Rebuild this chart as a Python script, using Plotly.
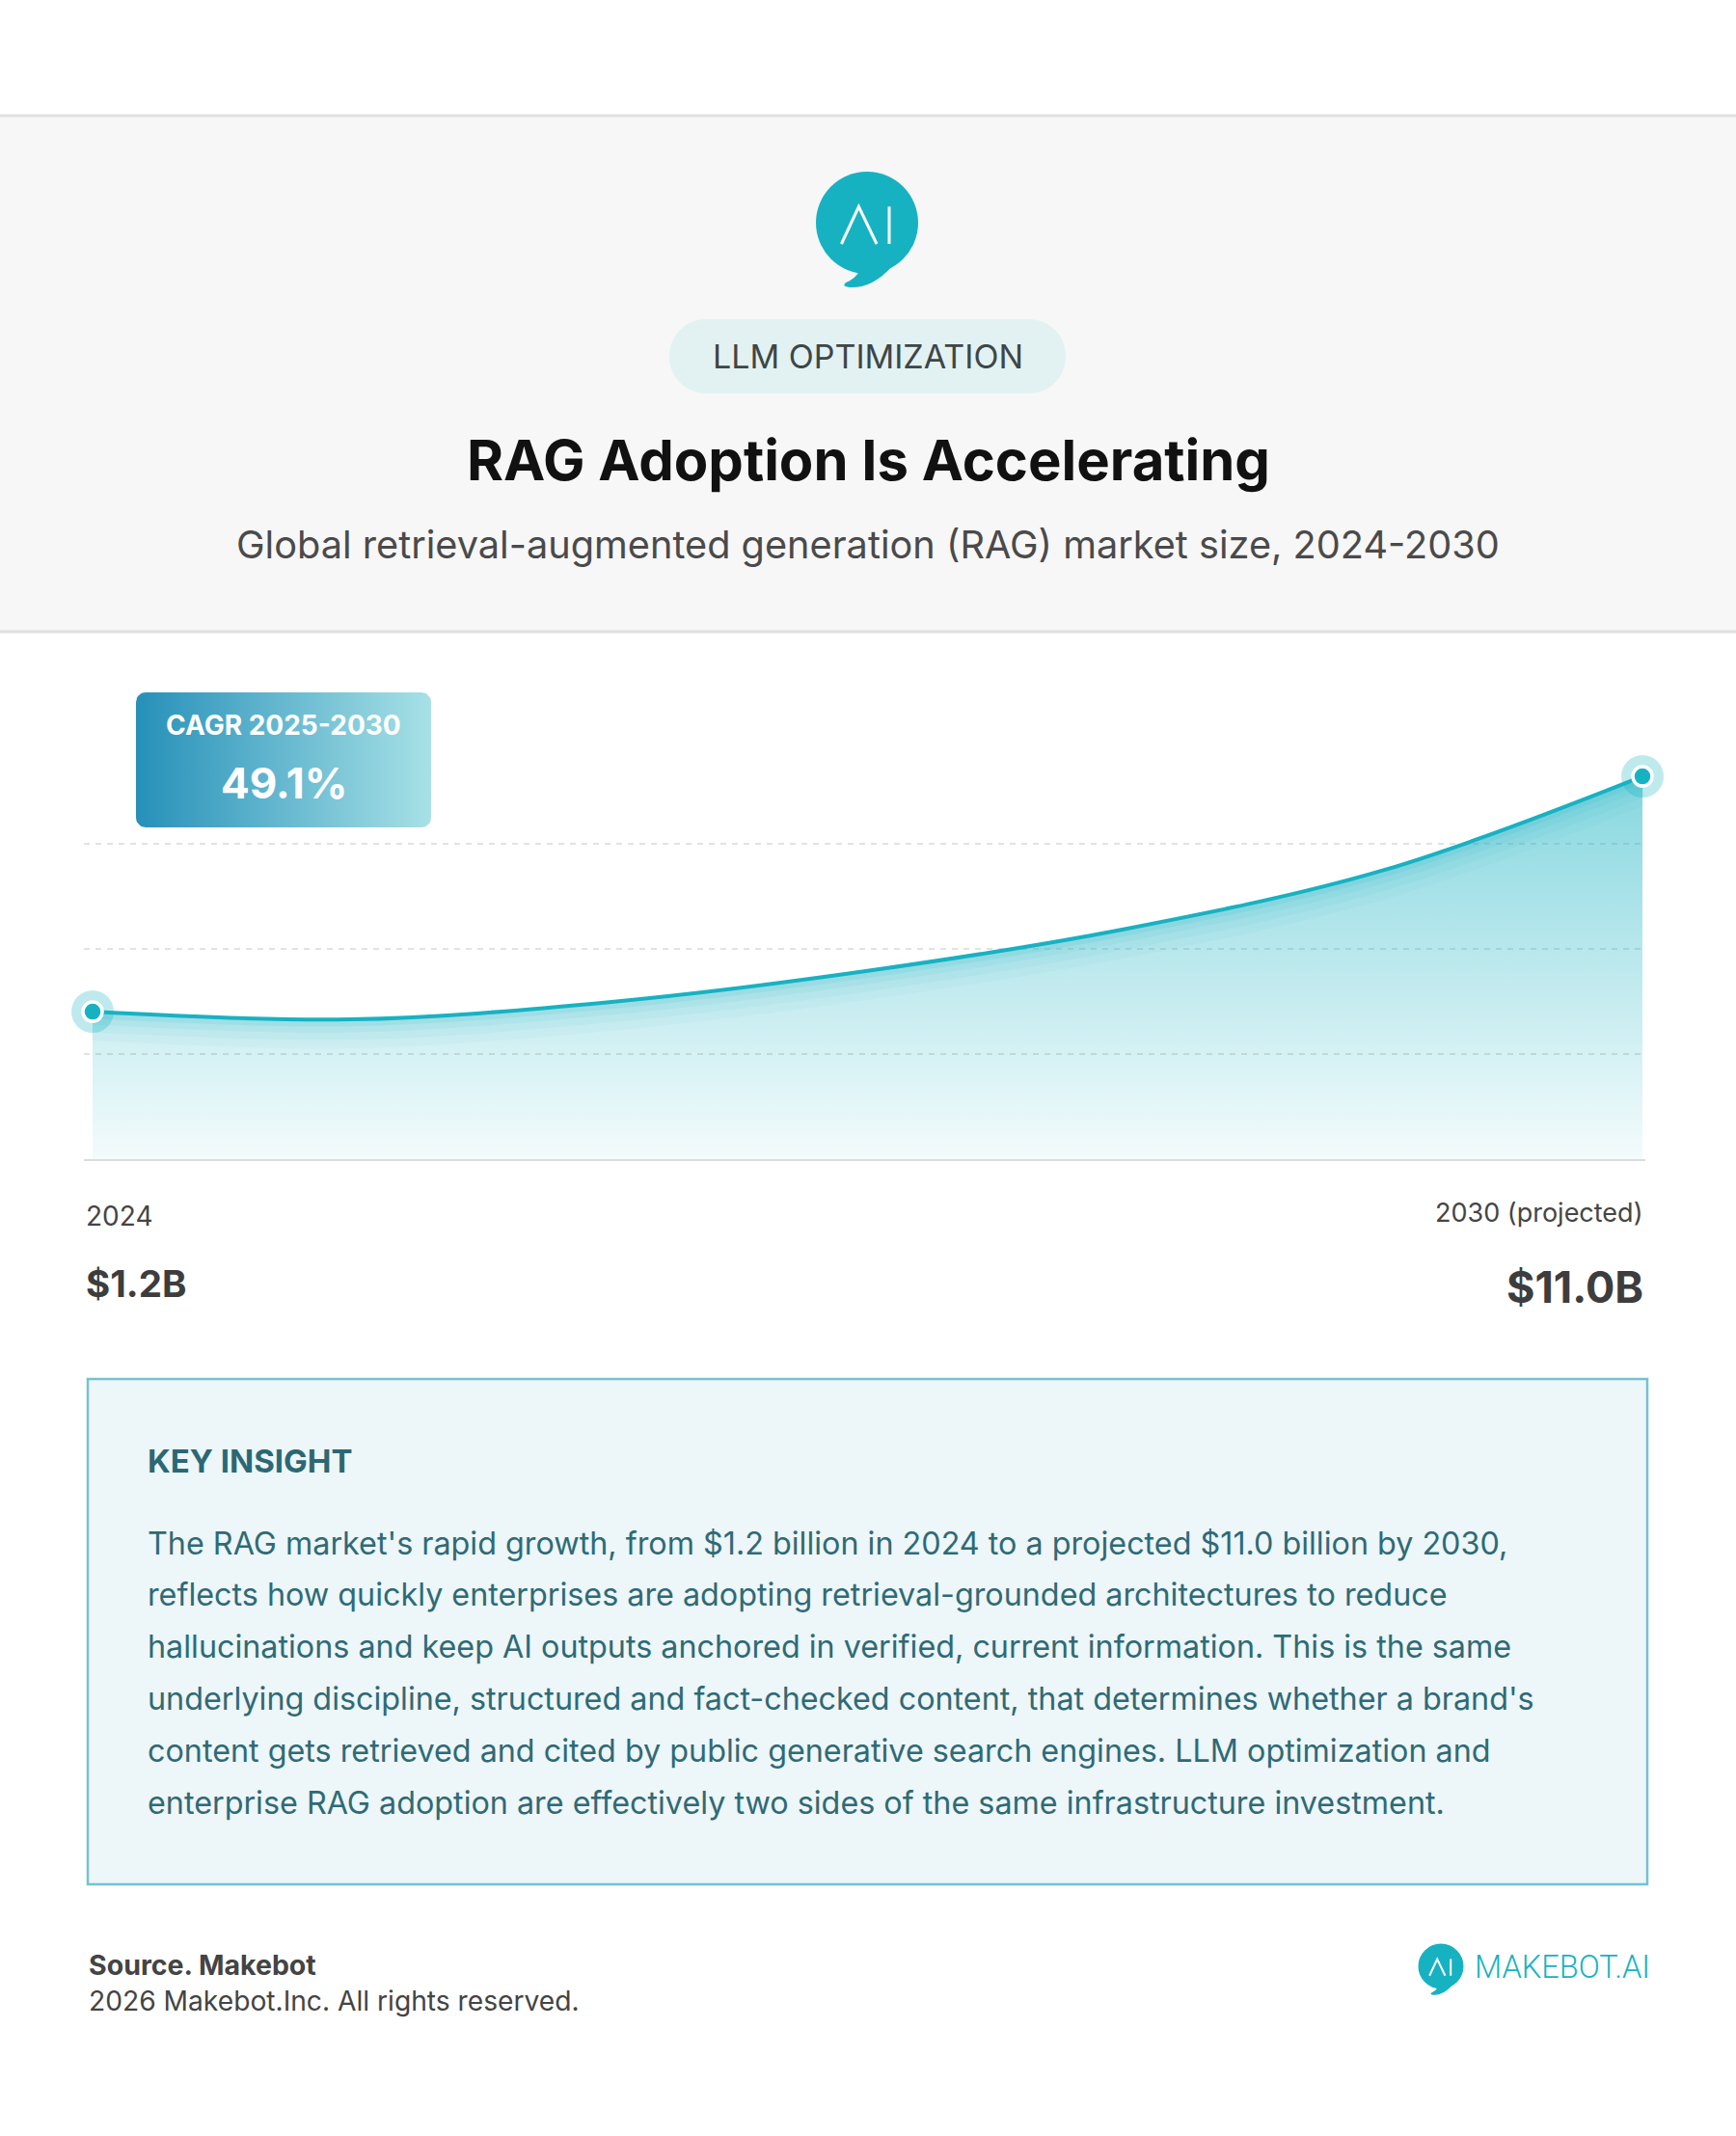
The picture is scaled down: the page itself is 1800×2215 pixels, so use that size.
import math
import plotly.graph_objects as go

W, H = 1800, 2215
TEAL = "#17b2c2"
FONT = "Inter"

# market size in USD billions at each year
years = [2024, 2025, 2026, 2027, 2028, 2029, 2030]
market_size = [1.2, 0.88, 1.6, 2.9, 4.65, 7.1, 11.0]
end_labels = ["2024", "2030 (projected)"]

badge = "LLM OPTIMIZATION"
title = "RAG Adoption Is Accelerating"
subtitle = "Global retrieval-augmented generation (RAG) market size, 2024-2030"
cagr_title = "CAGR 2025-2030"
cagr_value = "49.1%"
insight_title = "KEY INSIGHT"
insight_lines = [
    "The RAG market's rapid growth, from $1.2 billion in 2024 to a projected $11.0 billion by 2030,",
    "reflects how quickly enterprises are adopting retrieval-grounded architectures to reduce",
    "hallucinations and keep AI outputs anchored in verified, current information. This is the same",
    "underlying discipline, structured and fact-checked content, that determines whether a brand's",
    "content gets retrieved and cited by public generative search engines. LLM optimization and",
    "enterprise RAG adoption are effectively two sides of the same infrastructure investment.",
]
source = "Source. Makebot"
copyright_line = "2026 Makebot.Inc. All rights reserved."
brand = "MAKEBOT.AI"

# value axis: bottom line and top of plot area
Y_MIN, Y_MAX = -4.94, 12.57
# plot area in pixels
PLOT_L, PLOT_R, PLOT_T, PLOT_B = 87, 1706, 766, 1202
X_FIRST, X_LAST = 96, 1703


def text(fig, x, y, s, size, color, weight=400, anchor="center", family=FONT, xref="x2"):
    fig.add_annotation(
        x=x, y=y, xref=xref, yref="y2", text=s, showarrow=False,
        xanchor=anchor, yanchor="middle",
        font=dict(family=family, size=size, color=color, weight=weight),
    )


def rounded_path(x0, y0, x1, y1, r):
    k = 0.5523 * r
    return (
        f"M{x0 + r},{y0} L{x1 - r},{y0} C{x1 - r + k},{y0} {x1},{y0 + r - k} {x1},{y0 + r} "
        f"L{x1},{y1 - r} C{x1},{y1 - r + k} {x1 - r + k},{y1} {x1 - r},{y1} "
        f"L{x0 + r},{y1} C{x0 + r - k},{y1} {x0},{y1 - r + k} {x0},{y1 - r} "
        f"L{x0},{y0 + r} C{x0},{y0 + r - k} {x0 + r - k},{y0} {x0 + r},{y0} Z"
    )


def rounded_poly(x0, y0, x1, y1, r, steps=10):
    xs, ys = [], []
    corners = [(x1 - r, y0 + r, -90), (x1 - r, y1 - r, 0), (x0 + r, y1 - r, 90), (x0 + r, y0 + r, 180)]
    for cx, cy, a0 in corners:
        for i in range(steps + 1):
            a = math.radians(a0 + 90 * i / steps)
            xs.append(cx + r * math.cos(a))
            ys.append(cy + r * math.sin(a))
    return xs + xs[:1], ys + ys[:1]


def logo(fig, cx, cy, r):
    s = r / 53
    fig.add_shape(type="circle", xref="x2", yref="y2", x0=cx - r, x1=cx + r,
                  y0=cy - r, y1=cy + r, fillcolor=TEAL, line_width=0, layer="above")
    p = lambda dx, dy: f"{cx + dx * s},{cy + dy * s}"
    tail = f"M{p(-8, 50)} Q{p(-12, 58)} {p(-22, 62)} Q{p(-27, 66)} {p(-18, 67)} Q{p(6, 68)} {p(26, 45)} Z"
    fig.add_shape(type="path", xref="x2", yref="y2", path=tail, fillcolor=TEAL, line_width=0, layer="above")
    glyph = f"M{p(-26.6, 22)} L{p(-8.6, -16.7)} L{p(10, 22)} M{p(23, -16.7)} L{p(23, 22)}"
    fig.add_shape(type="path", xref="x2", yref="y2", path=glyph, fillcolor="rgba(0,0,0,0)",
                  line=dict(color="white", width=max(2, 3 * s)), layer="above")


def main():
    fig = go.Figure()

    # area under the curve
    fig.add_trace(go.Scatter(x=years, y=[Y_MIN] * len(years), mode="lines",
                             line=dict(width=0), hoverinfo="skip", showlegend=False))
    fig.add_trace(go.Scatter(
        x=years, y=market_size, mode="lines", line=dict(width=0, shape="spline", smoothing=1),
        fill="tonexty",
        fillgradient=dict(type="vertical", start=Y_MIN, stop=max(market_size),
                          colorscale=[[0, "rgba(23,178,194,0.05)"], [1, "rgba(23,178,194,0.52)"]]),
        hoverinfo="skip", showlegend=False,
    ))
    # soft glow under the line
    for off, w, a in [(0.6, 30, 0.035), (0.45, 20, 0.05), (0.3, 12, 0.07), (0.15, 7, 0.1)]:
        fig.add_trace(go.Scatter(x=years, y=[v - off for v in market_size], mode="lines",
                                 line=dict(width=w, color=f"rgba(23,178,194,{a})", shape="spline", smoothing=1),
                                 hoverinfo="skip", showlegend=False))
    fig.add_trace(go.Scatter(x=years, y=market_size, mode="lines",
                             line=dict(width=4, color=TEAL, shape="spline", smoothing=1),
                             showlegend=False))
    ends_x = [years[0], years[-1]]
    ends_y = [market_size[0], market_size[-1]]
    fig.add_trace(go.Scatter(x=ends_x, y=ends_y, mode="markers", cliponaxis=False,
                             marker=dict(size=44, color="rgba(23,178,194,0.28)"),
                             hoverinfo="skip", showlegend=False))
    fig.add_trace(go.Scatter(x=ends_x, y=ends_y, mode="markers", cliponaxis=False,
                             marker=dict(size=20, color=TEAL, line=dict(color="white", width=3.5)),
                             showlegend=False))

    # CAGR badge with horizontal gradient
    bx, by = rounded_poly(141, 718, 447, 858, 10)
    fig.add_trace(go.Scatter(x=bx, y=by, xaxis="x2", yaxis="y2", mode="lines", fill="toself",
                             line=dict(width=0),
                             fillgradient=dict(type="horizontal",
                                               colorscale=[[0, "#2690b9"], [1, "#a7e1e6"]]),
                             hoverinfo="skip", showlegend=False))
    text(fig, 294, 752, cagr_title, 28, "white", 700)
    text(fig, 294, 812, cagr_value, 44, "white", 700)

    # header band
    fig.add_shape(type="rect", xref="x2", yref="y2", x0=0, x1=W, y0=120, y1=655,
                  fillcolor="#f7f7f7", line_width=0, layer="below")
    for yy in (120, 655):
        fig.add_shape(type="line", xref="x2", yref="y2", x0=0, x1=W, y0=yy, y1=yy,
                      line=dict(color="#e0e0e0", width=3), layer="below")
    logo(fig, 899, 231, 53)
    fig.add_shape(type="path", xref="x2", yref="y2", path=rounded_path(694, 331, 1105, 408, 38),
                  fillcolor="#e2f2f3", line_width=0, layer="below")
    text(fig, 900, 369, badge, 34, "#3e4647")
    text(fig, 900, 477, title, 58, "#111111", 700)
    text(fig, 900, 565, subtitle, 39.7, "#4a4a4a")

    # end labels under the chart
    text(fig, 0, 1261, end_labels[0], 28, "#454545", anchor="left", xref="x domain")
    text(fig, 1, 1257, end_labels[1], 27, "#454545", anchor="right", xref="x domain")
    text(fig, 0, 1331, f"${market_size[0]:.1f}B", 38.5, "#3d3d3d", 700, anchor="left", xref="x domain")
    text(fig, 1, 1334, f"${market_size[-1]:.1f}B", 45, "#3d3d3d", 700, anchor="right", xref="x domain")

    # key insight box
    fig.add_shape(type="rect", xref="x2", yref="y2", x0=91, x1=1708, y0=1430, y1=1954,
                  fillcolor="#edf6f8", line=dict(color="#74c2d0", width=2.5), layer="below")
    text(fig, 151, 1515, insight_title, 33, "#2b6874", 700, anchor="left")
    for i, line in enumerate(insight_lines):
        text(fig, 151, 1600 + 53.8 * i, line, 32.3, "#2f6a76", anchor="left")

    # footer
    text(fig, 90, 2037, source, 28.5, "#444444", 700, anchor="left")
    text(fig, 90, 2075, copyright_line, 28.2, "#444444", anchor="left")
    logo(fig, 1494, 2039, 23.5)
    text(fig, 1527, 2040, brand, 32.5, TEAL, 300, anchor="left", family="Roboto")

    per_year = (X_LAST - X_FIRST) / (years[-1] - years[0])
    grid = [Y_MIN + k * (Y_MAX - Y_MIN) / 4 for k in (1, 2, 3)]
    fig.update_layout(
        width=W, height=H, autosize=False,
        margin=dict(l=0, r=0, t=0, b=0, pad=0),
        paper_bgcolor="white", plot_bgcolor="rgba(0,0,0,0)",
        font=dict(family=FONT),
        showlegend=False,
        xaxis=dict(domain=[PLOT_L / W, PLOT_R / W],
                   range=[years[0] - (X_FIRST - PLOT_L) / per_year, years[-1] + (PLOT_R - X_LAST) / per_year],
                   showgrid=False, zeroline=False, showticklabels=False, ticks="",
                   showline=True, linecolor="#dcdcdc", linewidth=2, fixedrange=True),
        yaxis=dict(domain=[1 - PLOT_B / H, 1 - PLOT_T / H], range=[Y_MIN, Y_MAX],
                   tickvals=grid, showgrid=True, gridcolor="#e2e2e2", gridwidth=1.5,
                   griddash="6px,6px", zeroline=False, showticklabels=False, ticks="",
                   fixedrange=True),
        xaxis2=dict(domain=[0, 1], range=[0, W], visible=False, anchor="y2", fixedrange=True),
        yaxis2=dict(domain=[0, 1], range=[H, 0], visible=False, anchor="x2", fixedrange=True),
    )
    # drop the default page margin so the figure sits at the window's corner
    fig.write_html("out.html", config={"displayModeBar": False},
                   post_script="document.body.style.margin='0';")


if __name__ == "__main__":
    main()
